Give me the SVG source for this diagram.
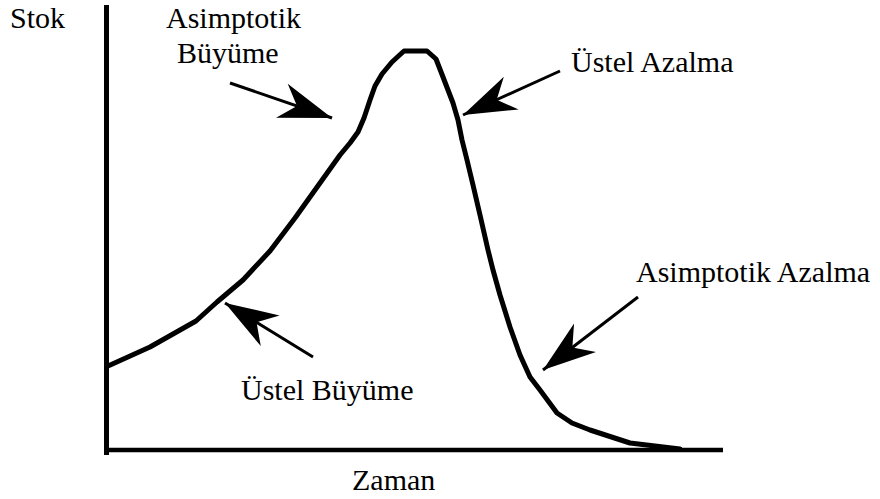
<svg xmlns="http://www.w3.org/2000/svg" width="880" height="499" viewBox="0 0 880 499">
  <style>
    .lbl { font-family: "Liberation Serif", "Times New Roman", serif; font-size: 30px; fill: #000; }
    .axis { stroke: #000; fill: none; stroke-linecap: butt; }
    .curve { stroke: #000; fill: none; stroke-width: 5; stroke-linejoin: round; stroke-linecap: round; }
    .pointer { stroke: #000; stroke-width: 3; fill: none; marker-end: url(#head); }
  </style>
  <defs>
    <marker id="head" markerUnits="userSpaceOnUse" markerWidth="60" markerHeight="44" viewBox="-56 -22 60 44" refX="0" refY="0" orient="auto">
      <path d="M0,0 L-53,-18 L-37,0 L-53,18 Z" fill="#000"/>
    </marker>
  </defs>

  <rect width="880" height="499" fill="#fff"/>

  <!-- axes -->
  <g id="axes">
    <line class="axis" x1="106.5" y1="5" x2="106.5" y2="455" stroke-width="5"/>
    <line class="axis" x1="104" y1="450" x2="723" y2="450" stroke-width="4.5"/>
  </g>

  <!-- stock curve -->
  <g id="stock-curve">
    <path class="curve" d="M108,366 L150,347 L196,321 L217,302 L243,280 L270,251 L295,218 L320,183 L340,155 L350,143 L358,132 L364,118 L370,100 L375,86 L382,74 L392,62 L404,51 L427,51 L436,59 L443,77 L453,103 L458,120 L462,140 L467,160 L473,185 L480,215 L488,250 L493,270 L500,295 L510,327 L520,355 L530,377 L540,390 L557,413 L572,423 L590,430 L630,443 L680,449"/>
  </g>

  <!-- labels -->
  <g id="label-stok"><text class="lbl" x="10" y="28">Stok</text></g>
  <g id="label-zaman"><text class="lbl" x="352" y="490">Zaman</text></g>
  <g id="label-asimptotik-buyume">
    <text class="lbl" x="166" y="28">Asimptotik</text>
    <text class="lbl" x="177" y="63">Büyüme</text>
  </g>
  <g id="label-ustel-azalma"><text class="lbl" x="571" y="72">Üstel Azalma</text></g>
  <g id="label-ustel-buyume"><text class="lbl" x="241" y="400">Üstel Büyüme</text></g>
  <g id="label-asimptotik-azalma"><text class="lbl" x="636" y="282">Asimptotik Azalma</text></g>

  <!-- pointer arrows -->
  <g id="connectors">
    <line class="pointer" x1="230" y1="83" x2="332" y2="118"/>
    <line class="pointer" x1="560" y1="71" x2="463" y2="115"/>
    <line class="pointer" x1="313" y1="357" x2="225" y2="303"/>
    <line class="pointer" x1="638" y1="297" x2="543" y2="370"/>
  </g>
</svg>
